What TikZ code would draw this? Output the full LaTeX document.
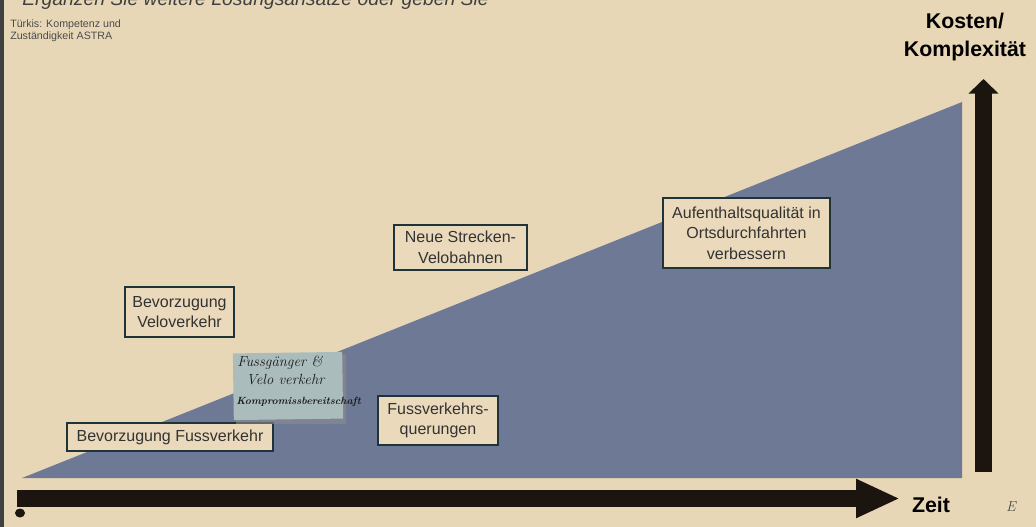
\documentclass[tikz,border=0pt]{standalone}
\usepackage{fontspec}
\newfontfamily\arial{Liberation Sans}
\usetikzlibrary{arrows.meta}
\definecolor{paper}{RGB}{232,215,183}
\definecolor{boxfill}{RGB}{234,217,186}
\definecolor{slate}{RGB}{110,121,150}
\definecolor{ink}{RGB}{28,20,14}
\definecolor{frame}{RGB}{30,52,56}
\definecolor{sticky}{RGB}{170,188,188}
\tikzset{
  label box/.style={draw=frame, line width=1.4pt, fill=boxfill, align=center,
    font=\arial\fontsize{12}{15.5}\selectfont, text=black!80, inner sep=0pt},
  axis arrow/.style={draw=ink, line width=12.75pt},
  axis label/.style={font=\arial\fontsize{16}{21}\selectfont\bfseries, text=black, align=center},
  hand/.style={font=\itshape\fontsize{11}{13}\selectfont, text=black!90, anchor=base west, inner sep=0pt}
}
\begin{document}
\begin{tikzpicture}[x=0.75pt,y=-0.75pt]
\useasboundingbox (0,0) rectangle (1036,527);
\clip (0,0) rectangle (1036,527);
\fill[paper] (0,0) rectangle (1036,527);
\fill[black!75] (0,0) rectangle (4,527);
% top clipped instruction text
\node[anchor=base west, inner sep=0pt, font=\arial\fontsize{14.5}{16}\selectfont\itshape, text=black!75] (instr) at (22,6) {Ergänzen Sie weitere Lösungsansätze oder geben Sie};
% triangle
\fill[slate] (22,478) -- (962,478) -- (962,102) -- cycle;
% axes
\coordinate (xs) at (17,498.5);
\coordinate (xe) at (900,498.5);
\coordinate (ys) at (983.5,472);
\coordinate (ye) at (983.5,79);
\draw[axis arrow, -{Triangle[length=33pt,width=27pt]}] (xs) -- (xe);
\draw[axis arrow, -{Triangle[length=11pt,width=22pt]}] (ys) -- (ye);
\fill[ink] (20,513) ellipse (5 and 4.5);
% axis labels
\node[axis label] (kosten) at (965,37) {Kosten/\\Komplexität};
\node[axis label] (zeit) at (931,505) {Zeit};
\node[font=\itshape\fontsize{11}{12}\selectfont, text=black!70] (e) at (1011,507) {E};
% legend
\node[anchor=north west, align=left, inner sep=0pt, font=\arial\fontsize{8}{9}\selectfont, text=black!70] (legend) at (10,20) {Türkis: Kompetenz und\\Zuständigkeit ASTRA};
% boxes
\node[label box, minimum width=82pt, minimum height=37.5pt] (velo) at (179.5,312) {Bevorzugung\\Veloverkehr};
\node[label box, minimum width=100pt, minimum height=34pt] (neue) at (460.5,247.5) {Neue Strecken-\\Velobahnen};
\node[label box, minimum width=125pt, minimum height=52pt] (aufent) at (746.5,233) {Aufenthaltsqualität in\\Ortsdurchfahrten\\verbessern};
\node[label box, minimum width=154.5pt, minimum height=21pt] (fuss) at (170,437) {Bevorzugung Fussverkehr};
\node[label box, minimum width=90pt, minimum height=37pt] (quer) at (438,420.5) {Fussverkehrs-\\querungen};
% sticky note
\fill[black!45, opacity=0.6] (236,357) -- (346,354) -- (346,424) -- (236,424) -- cycle;
\node[fill=sticky, minimum width=82pt, minimum height=50pt, inner sep=0pt, rotate=0.8] (sticky) at (288,386) {};
\node[hand] (s1) at (237,367) {Fussgänger \&};
\node[hand] (s2) at (246,385) {Velo verkehr};
\node[hand, font=\itshape\bfseries\fontsize{7.8}{9}\selectfont] (s3) at (236,405) {Kompromissbereitschaft};
\end{tikzpicture}
\end{document}
